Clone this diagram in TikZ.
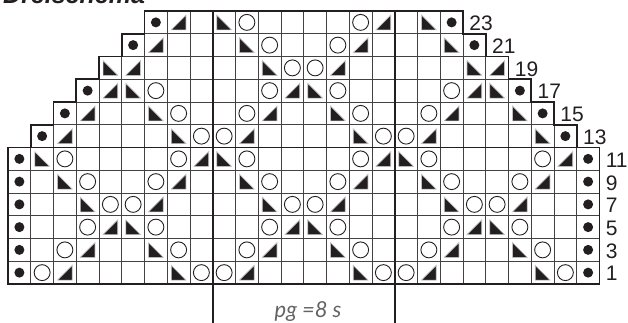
\documentclass[tikz,border=0pt]{standalone}
\usepackage{fontspec}
\setmainfont{Liberation Sans}
\newfontfamily\notefont{Lato}
\usepackage{xcolor}
\usepackage{tikz}
\definecolor{ink}{HTML}{231F20}

\begin{document}
\begin{tikzpicture}[
        x=22.75pt, y=-22.75pt,
        gridline/.style={draw=ink!85, line width=0.9pt},
        heavyline/.style={draw=ink, line width=1.5pt},
        outline/.style={draw=ink, line width=1.8pt, line join=miter},
        rownum/.style={anchor=west, inner sep=0pt, text=ink, font=\fontsize{21}{21}\selectfont},
        knitd/.pic={\fill[ink] (0,0) circle (0.22);},
        knito/.pic={\draw[ink, line width=0.9pt] (0,0) circle (0.35);},
        knitl/.pic={\fill[ink, draw=black!25, line width=0.7pt] (-0.32,-0.32) -- (-0.32,0.33) -- (0.32,0.33) -- cycle;},
        knitr/.pic={\fill[ink, draw=black!25, line width=0.7pt] (0.32,-0.32) -- (0.32,0.33) -- (-0.32,0.33) -- cycle;}
    ]
        \useasboundingbox (-0.352,-0.484) rectangle (27.253,13.714);

        % Grid
        \foreach \r/\first/\last/\num in {0/6/19/23, 1/5/20/21, 2/4/21/19, 3/3/22/17, 4/2/23/15, 5/1/24/13, 6/0/25/11, 7/0/25/9, 8/0/25/7, 9/0/25/5, 10/0/25/3, 11/0/25/1} {
            \draw[gridline] (\first,\r+1) -- (\last+1,\r+1);
            \foreach \c in {\first,...,\last} {
                \draw[gridline] (\c,\r) -- (\c,\r+1);
            }
            \node[rownum] (row\num) at (\last+1.27,\r+0.55) {\num};
        }

        % Heavy lines
        \draw[heavyline] (0,6) -- (26,6);
        \draw[heavyline] (9,0) -- (9,13.714);
        \draw[heavyline] (17,0) -- (17,13.714);
        \draw[outline] (0,12) -- (0,6) -- (1,6) -- (1,5) -- (2,5) -- (2,4) -- (3,4) -- (3,3) -- (4,3) -- (4,2) -- (5,2) -- (5,1) -- (6,1) -- (6,0)
            -- (20,0) -- (20,1) -- (21,1) -- (21,2) -- (22,2) -- (22,3) -- (23,3) -- (23,4) -- (24,4) -- (24,5) -- (25,5) -- (25,6) -- (26,6) -- (26,12) -- cycle;

        % Stitches
        \foreach \r/\cells in {
            0/{6/d,7/r,9/l,10/o,15/o,16/r,18/l,19/d},
            1/{5/d,6/r,10/l,11/o,14/o,15/r,19/l,20/d},
            2/{4/l,5/r,11/l,12/o,13/o,14/r,20/l,21/r},
            3/{3/d,4/r,5/l,6/o,11/o,12/r,13/l,14/o,19/o,20/r,21/l,22/d},
            4/{2/d,3/r,6/l,7/o,10/o,11/r,14/l,15/o,18/o,19/r,22/l,23/d},
            5/{1/d,2/r,7/l,8/o,9/o,10/r,15/l,16/o,17/o,18/r,23/l,24/d},
            6/{0/d,1/l,2/o,7/o,8/r,9/l,10/o,15/o,16/r,17/l,18/o,23/o,24/r,25/d},
            7/{0/d,2/l,3/o,6/o,7/r,10/l,11/o,14/o,15/r,18/l,19/o,22/o,23/r,25/d},
            8/{0/d,3/l,4/o,5/o,6/r,11/l,12/o,13/o,14/r,19/l,20/o,21/o,22/r,25/d},
            9/{0/d,3/o,4/r,5/l,6/o,11/o,12/r,13/l,14/o,19/o,20/r,21/l,22/o,25/d},
            10/{0/d,2/o,3/r,6/l,7/o,10/o,11/r,14/l,15/o,18/o,19/r,22/l,23/o,25/d},
            11/{0/d,1/o,2/r,7/l,8/o,9/o,10/r,15/l,16/o,17/o,18/r,23/l,24/o,25/d}} {
            \foreach \c/\k in \cells {
                \pic at (\c+0.5,\r+0.5) {knit\k};
            }
        }

        % Texts
        \node[anchor=base west, inner sep=0pt, text=ink, font=\fontsize{25}{25}\selectfont\bfseries\itshape] (title) at (-0.22,-0.31) {Dreischema};
        \node[anchor=base, inner sep=0pt, text=ink!70, font=\notefont\fontsize{22}{22}\selectfont\itshape] (repeat) at (13.19,13.49) {pg =8 s};
    \end{tikzpicture}
\end{document}
